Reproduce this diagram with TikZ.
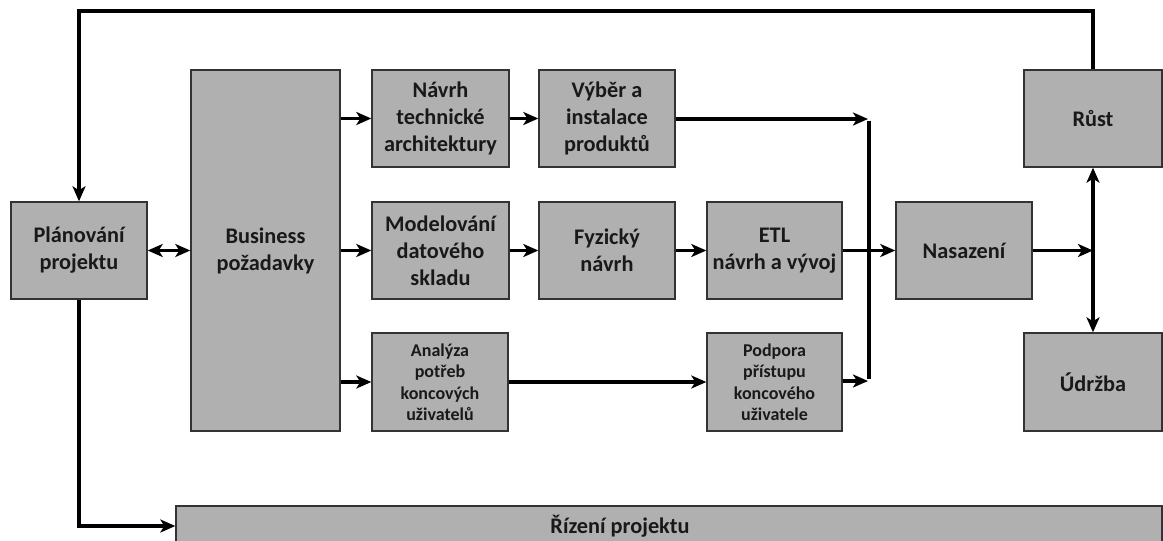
\documentclass[tikz,border=0pt]{standalone}
\usepackage{fontspec}
\setmainfont{Carlito}
\usetikzlibrary{arrows.meta}
\begin{document}
\begin{tikzpicture}[x=1pt,y=-1pt,
  box/.style={draw=black!80,line width=1.4pt,fill=black!31,text=black!90,
    font=\bfseries\fontsize{22.3}{27}\selectfont,align=center,inner sep=0pt},
  smallbox/.style={box,font=\bfseries\fontsize{18}{21.5}\selectfont},
  tip/.tip={Stealth[length=15pt,width=13pt,inset=4pt]},
  conn/.style={line width=3.2pt,-tip},
  biconn/.style={line width=3.2pt,tip-tip},
  busline/.style={line width=4pt}]
\useasboundingbox (0,0) rectangle (1163,541);
\begin{scope}
\clip (0,0) rectangle (1163,541);
% process boxes
\node[box,minimum width=136pt,minimum height=97pt] (plan) at (79,250.5) {Plánování\\projektu};
\node[box,minimum width=149pt,minimum height=361pt] (bus) at (265.5,250.5) {Business\\požadavky};
\node[box,minimum width=137pt,minimum height=97pt] (navrh) at (440.5,118.5) {Návrh\\technické\\architektury};
\node[box,minimum width=136pt,minimum height=97pt] (vyber) at (607,118.5) {Výběr a\\instalace\\produktů};
\node[box,minimum width=137pt,minimum height=97pt] (model) at (440.5,250.5) {Modelování\\datového\\skladu};
\node[box,minimum width=136pt,minimum height=97pt] (fyz) at (607,250.5) {Fyzický\\návrh};
\node[box,minimum width=135pt,minimum height=97pt] (etl) at (774.5,250.5) {ETL\\návrh a vývoj};
\node[smallbox,minimum width=136pt,minimum height=98pt] (anal) at (440,382) {Analýza\\potřeb\\koncových\\uživatelů};
\node[smallbox,minimum width=135pt,minimum height=98pt] (podp) at (774.5,382) {Podpora\\přístupu\\koncového\\uživatele};
\node[box,minimum width=136pt,minimum height=97pt] (nas) at (964,250.5) {Nasazení};
\node[box,minimum width=138pt,minimum height=97pt] (rust) at (1093,118.5) {Růst};
\node[box,minimum width=138pt,minimum height=98pt] (udr) at (1093,382) {Údržba};
% the project-management bar runs off the lower edge; its label sits left of centre
\node[box,minimum width=986pt,minimum height=40pt] (riz) at (669,526)
  {\hspace*{-98pt}\raisebox{3pt}{Řízení projektu}};

% junction points
\coordinate (jtop) at (869,119);
\coordinate (jbot) at (869,381);
\coordinate (jright) at (1093,250.5);

% connectors
\draw[biconn] (plan.east) -- (bus.west);
\draw[conn] (bus.east |- navrh.west) -- (navrh.west);
\draw[conn] (bus.east |- model.west) -- (model.west);
\draw[conn] (bus.east |- anal.west) -- (anal.west);
\draw[conn] (navrh) -- (vyber);
\draw[conn] (model) -- (fyz);
\draw[conn] (fyz) -- (etl);
\draw[conn] (anal) -- (podp);
\draw[busline] ([yshift=-1.6pt]jtop) -- ([yshift=1.6pt]jbot);
\draw[conn] (vyber.east |- jtop) -- ([xshift=-1pt]jtop);
\draw[conn] (podp.east |- jbot) -- ([xshift=-1pt]jbot);
\draw[conn] (etl) -- (nas);
\draw[conn] (nas) -- (jright);
\draw[biconn] (rust) -- (udr);
\draw[conn] (rust.north) -- (1093,11) -- (79,11) -- (plan.north);
\draw[conn] (plan.south) -- (plan.south |- riz.west) -- (riz.west);
\end{scope}
\end{tikzpicture}
\end{document}
